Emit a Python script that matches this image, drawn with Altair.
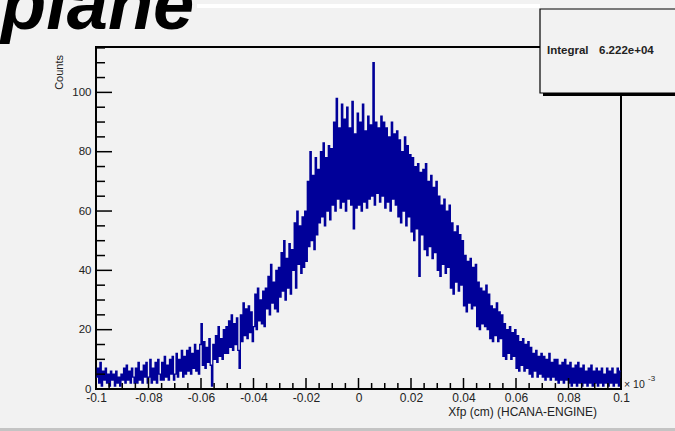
import altair as alt
import numpy as np
import pandas as pd

# Bin contents of the Xfp histogram: 400 bins of width 0.0005 over [-0.1, 0.1],
# listed in four runs of 100 bins each.
counts_a = [
    4, 7, 2, 9, 1, 6, 3, 7, 2, 5,
    1, 6, 3, 5, 1, 6, 2, 4, 1, 5,
    3, 7, 2, 8, 3, 6, 2, 7, 4, 2,
    7, 2, 9, 3, 6, 2, 8, 4, 9, 2,
    4, 10, 2, 7, 3, 9, 2, 10, 5, 3,
    9, 3, 11, 4, 8, 3, 10, 5, 11, 3,
    5, 12, 4, 10, 6, 13, 4, 11, 5, 13,
    6, 14, 5, 12, 7, 15, 6, 13, 5, 15,
    22, 8, 16, 7, 14, 9, 17, 8, 1, 15,
    10, 18, 9, 21, 11, 17, 10, 20, 12, 21,
]
counts_b = [
    12, 23, 14, 25, 13, 22, 15, 24, 13, 7,
    25, 16, 29, 18, 27, 17, 28, 19, 26, 16,
    21, 32, 20, 34, 23, 30, 22, 33, 21, 34,
    27, 38, 25, 42, 29, 36, 27, 40, 26, 41,
    31, 46, 33, 50, 30, 44, 34, 49, 32, 47,
    40, 56, 34, 60, 42, 55, 39, 58, 41, 60,
    43, 70, 48, 80, 50, 72, 47, 78, 52, 74,
    56, 80, 58, 83, 55, 78, 60, 82, 57, 81,
    62, 90, 60, 98, 64, 88, 61, 96, 63, 91,
    60, 95, 64, 88, 62, 97, 54, 86, 61, 93,
]
counts_c = [
    62, 90, 60, 96, 63, 87, 61, 92, 64, 89,
    65, 110, 62, 90, 66, 88, 63, 92, 65, 90,
    61, 88, 63, 85, 60, 90, 64, 86, 62, 87,
    58, 84, 56, 80, 60, 85, 55, 82, 58, 79,
    53, 78, 50, 75, 54, 76, 38, 73, 52, 74,
    47, 76, 45, 70, 48, 72, 44, 68, 46, 70,
    40, 65, 38, 62, 42, 64, 39, 60, 41, 62,
    34, 56, 32, 53, 36, 55, 33, 52, 35, 50,
    28, 45, 26, 43, 29, 44, 27, 41, 28, 42,
    21, 36, 20, 34, 22, 33, 21, 35, 20, 32,
]
counts_d = [
    17, 28, 16, 27, 18, 29, 16, 26, 17, 25,
    11, 22, 10, 20, 12, 21, 10, 19, 11, 20,
    7, 18, 6, 16, 8, 17, 6, 15, 7, 16,
    5, 14, 4, 12, 6, 13, 4, 11, 5, 12,
    4, 11, 3, 10, 4, 12, 3, 9, 4, 10,
    3, 10, 2, 8, 3, 9, 2, 10, 3, 8,
    2, 9, 1, 7, 2, 8, 1, 9, 2, 7,
    1, 8, 2, 6, 1, 7, 2, 8, 1, 6,
    2, 7, 1, 6, 2, 7, 1, 5, 2, 7,
    1, 6, 2, 7, 1, 5, 2, 7, 1, 6,
]

x_range = [-0.1, 0.1]
y_range = [0, 115.3]
x_major = [-0.1, -0.08, -0.06, -0.04, -0.02, 0, 0.02, 0.04, 0.06, 0.08, 0.1]
y_major = [0, 20, 40, 60, 80, 100]
y_minor = [5, 10, 15, 25, 30, 35, 45, 50, 55, 65, 70, 75, 85, 90, 95, 105, 110, 115]
integral_text = "6.222e+04"

counts = counts_a + counts_b + counts_c + counts_d
edges = np.linspace(x_range[0], x_range[1], len(counts) + 1)
hist = pd.DataFrame({"x": edges, "y": counts + [counts[-1]]})

x_minor = [round(v, 4) for v in np.arange(-0.1, 0.1001, 0.005)
           if all(abs(v - m) > 1e-6 for m in x_major)]

W, H = 525, 342
BG = "#f2f2f2"
FONT = "Liberation Sans"
one = pd.DataFrame({"k": [0]})

xs = alt.Scale(domain=x_range, nice=False, zero=False)
ys = alt.Scale(domain=y_range, nice=False, zero=False)

frame = alt.Chart(one).mark_rect(fillOpacity=0, stroke="black", strokeWidth=2).encode(
    x=alt.value(0), x2=alt.value(W), y=alt.value(0), y2=alt.value(H)
)

hist_line = alt.Chart(hist).mark_line(
    interpolate="step-after", color="#000099", strokeWidth=1.3, clip=True
).encode(
    x=alt.X("x:Q", scale=xs, axis=alt.Axis(
        values=x_major, labelExpr="'' + datum.value", ticks=False, domain=False,
        grid=False, labelFont=FONT, labelFontSize=12, labelColor="#222",
        labelPadding=3, title=None, labelFlush=False)),
    y=alt.Y("y:Q", scale=ys, axis=alt.Axis(
        values=y_major, ticks=False, domain=False, grid=False, labelFont=FONT,
        labelFontSize=11.5, labelColor="#222", labelPadding=5, title=None)),
)

ytick_major = alt.Chart(pd.DataFrame({"v": y_major})).mark_rule(color="black", strokeWidth=1.5).encode(
    y=alt.Y("v:Q", scale=ys), x=alt.value(0), x2=alt.value(16))
ytick_minor = alt.Chart(pd.DataFrame({"v": y_minor})).mark_rule(color="black", strokeWidth=1.5).encode(
    y=alt.Y("v:Q", scale=ys), x=alt.value(0), x2=alt.value(9))
xtick_major = alt.Chart(pd.DataFrame({"v": x_major})).mark_rule(color="black", strokeWidth=1.5).encode(
    x=alt.X("v:Q", scale=xs), y=alt.value(H), y2=alt.value(H - 11))
xtick_minor = alt.Chart(pd.DataFrame({"v": x_minor})).mark_rule(color="black", strokeWidth=1.5).encode(
    x=alt.X("v:Q", scale=xs), y=alt.value(H), y2=alt.value(H - 6))

# statistics box with its drop shadow
stats_shadow = alt.Chart(one).mark_rect(color="black").encode(
    x=alt.value(447), x2=alt.value(600), y=alt.value(45), y2=alt.value(49))
stats_box = alt.Chart(one).mark_rect(fill=BG, stroke="black", strokeWidth=1.2).encode(
    x=alt.value(444), x2=alt.value(600), y=alt.value(-38), y2=alt.value(46))
stats_label = alt.Chart(one).mark_text(
    text="Integral", font=FONT, fontWeight="bold", fontSize=11.5, align="left",
    baseline="middle", color="#222").encode(x=alt.value(451), y=alt.value(4))
stats_value = alt.Chart(one).mark_text(
    text=integral_text, font=FONT, fontWeight="bold", fontSize=11.5, align="left",
    baseline="middle", color="#222").encode(x=alt.value(503), y=alt.value(4))

top_strip = alt.Chart(one).mark_rect(color="white").encode(
    x=alt.value(101), x2=alt.value(444), y=alt.value(-43), y2=alt.value(-39))
bottom_strip = alt.Chart(one).mark_rect(color="#c4c4c4").encode(
    x=alt.value(-96), x2=alt.value(590), y=alt.value(381), y2=alt.value(385))

title = alt.Chart(one).mark_text(
    text="plane", font=FONT, fontWeight="bold", fontStyle="italic", fontSize=74,
    align="left", baseline="alphabetic", color="black").encode(
    x=alt.value(-95), y=alt.value(-18))

y_title = alt.Chart(one).mark_text(
    text="Counts", font=FONT, fontSize=11, angle=270, align="right",
    baseline="bottom", color="#222").encode(x=alt.value(-31), y=alt.value(8))
x_title = alt.Chart(one).mark_text(
    text="Xfp (cm) (HCANA-ENGINE)", font=FONT, fontSize=12, align="right",
    baseline="middle", color="#222").encode(x=alt.value(501), y=alt.value(365))
exp_base = alt.Chart(one).mark_text(
    text="\u00d7 10", font=FONT, fontSize=10.5, align="left", baseline="middle",
    color="#222").encode(x=alt.value(528), y=alt.value(338))
exp_power = alt.Chart(one).mark_text(
    text="-3", font=FONT, fontSize=8, align="left", baseline="middle",
    color="#222").encode(x=alt.value(552), y=alt.value(332))

chart = alt.layer(
    top_strip, bottom_strip, title, frame, hist_line,
    ytick_major, ytick_minor, xtick_major, xtick_minor,
    stats_shadow, stats_box, stats_label, stats_value,
    y_title, x_title, exp_base, exp_power,
).properties(
    width=W, height=H, background=BG,
    padding={"left": 96, "top": 47, "right": 54, "bottom": 42},
    autosize=alt.AutoSizeParams(type="none"),
).configure_view(strokeWidth=0)

chart.save("out.html", embed_options={"renderer": "svg", "actions": False})
